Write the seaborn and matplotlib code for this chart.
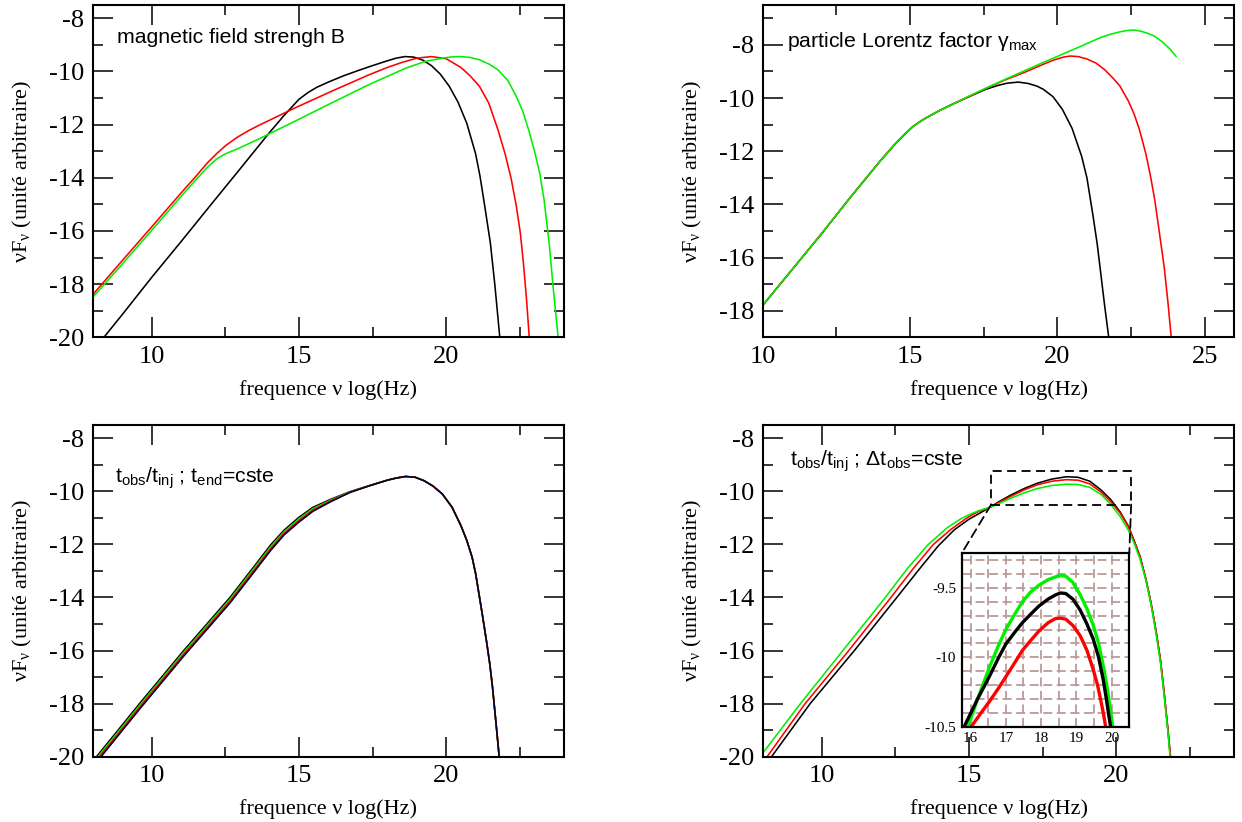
import numpy as np
import pandas as pd
import matplotlib
matplotlib.use("Agg")
import matplotlib.pyplot as plt
import seaborn as sns
from matplotlib.ticker import MultipleLocator, FormatStrFormatter
from matplotlib.patches import Rectangle, ConnectionPatch

# ---------------- data ----------------
# Panel 1 : magnetic field strength B
b_black_x = [8.38, 9.0, 10.0, 11.0, 12.0, 13.0, 14.0, 14.5, 15.0, 15.3, 15.6, 16.0, 16.5, 17.0, 17.5, 18.0, 18.3, 18.6, 18.9, 19.2, 19.5, 19.8, 20.1, 20.4, 20.7, 21.0, 21.15, 21.3, 21.5, 21.65, 21.82]
b_black_y = [-20.0, -19.15, -17.75, -16.4, -15.03, -13.67, -12.3, -11.65, -11.05, -10.8, -10.6, -10.4, -10.17, -9.97, -9.78, -9.6, -9.5, -9.44, -9.46, -9.57, -9.78, -10.1, -10.55, -11.15, -11.95, -13.1, -13.95, -15.0, -16.45, -18.0, -20.0]
b_red_x = [8.0, 9.0, 10.0, 11.0, 11.5, 11.9, 12.2, 12.5, 12.9, 13.3, 13.6, 14.85, 16.1, 17.37, 18.0, 18.5, 19.0, 19.5, 20.0, 20.5, 20.8, 21.13, 21.45, 21.76, 22.0, 22.2, 22.38, 22.52, 22.63, 22.73, 22.82]
b_red_y = [-18.4, -17.12, -15.85, -14.57, -13.95, -13.43, -13.1, -12.8, -12.48, -12.22, -12.05, -11.38, -10.75, -10.13, -9.85, -9.66, -9.5, -9.44, -9.52, -9.85, -10.15, -10.56, -11.2, -12.2, -13.1, -14.0, -15.05, -16.1, -17.3, -18.6, -20.0]
b_green_x = [8.0, 9.0, 10.0, 11.0, 11.5, 11.9, 12.2, 12.5, 12.9, 13.6, 14.85, 16.1, 17.37, 18.62, 19.3, 19.87, 20.2, 20.5, 20.8, 21.13, 21.45, 21.76, 22.1, 22.38, 22.6, 22.8, 23.0, 23.17, 23.32, 23.5, 23.63, 23.8]
b_green_y = [-18.5, -17.25, -15.98, -14.7, -14.08, -13.6, -13.3, -13.1, -12.92, -12.56, -11.88, -11.19, -10.5, -9.88, -9.62, -9.5, -9.45, -9.44, -9.47, -9.56, -9.72, -9.94, -10.35, -10.94, -11.5, -12.2, -13.0, -13.8, -14.8, -16.5, -18.1, -20.0]

# Panel 2 : particle Lorentz factor gamma_max
g_black_x = [10.0, 11.0, 12.0, 13.0, 14.0, 14.5, 14.8, 15.1, 15.4, 15.7, 16.0, 16.5, 17.0, 17.57, 18.0, 18.3, 18.67, 19.0, 19.3, 19.52, 19.85, 20.17, 20.5, 20.82, 21.0, 21.21, 21.35, 21.47, 21.6, 21.74]
g_black_y = [-17.8, -16.45, -15.1, -13.7, -12.35, -11.72, -11.38, -11.07, -10.84, -10.65, -10.47, -10.2, -9.95, -9.67, -9.52, -9.44, -9.4, -9.45, -9.55, -9.67, -9.95, -10.43, -11.15, -12.19, -13.0, -14.45, -15.5, -16.6, -17.8, -19.0]
g_red_x = [10.0, 11.0, 12.0, 13.0, 14.0, 14.5, 14.8, 15.1, 15.4, 15.7, 16.0, 16.5, 17.0, 17.57, 18.2, 18.87, 19.52, 19.9, 20.2, 20.43, 20.7, 21.0, 21.3, 21.6, 21.9, 22.12, 22.4, 22.6, 22.78, 23.0, 23.15, 23.3, 23.45, 23.62, 23.75, 23.86]
g_red_y = [-17.8, -16.45, -15.1, -13.7, -12.35, -11.72, -11.38, -11.07, -10.84, -10.65, -10.47, -10.2, -9.94, -9.64, -9.33, -9.04, -8.73, -8.56, -8.46, -8.42, -8.44, -8.53, -8.68, -8.93, -9.27, -9.55, -10.1, -10.6, -11.18, -12.1, -12.9, -13.82, -15.0, -16.34, -17.7, -19.0]
g_green_x = [10.0, 11.0, 12.0, 13.0, 14.0, 14.5, 14.8, 15.1, 15.4, 15.7, 16.0, 16.5, 17.0, 17.57, 18.2, 18.87, 19.52, 20.17, 20.82, 21.47, 21.8, 22.12, 22.35, 22.6, 22.85, 23.1, 23.3, 23.55, 23.82, 24.03]
g_green_y = [-17.8, -16.45, -15.1, -13.7, -12.35, -11.72, -11.38, -11.07, -10.84, -10.65, -10.47, -10.2, -9.93, -9.63, -9.31, -8.98, -8.66, -8.35, -8.04, -7.72, -7.6, -7.51, -7.46, -7.44, -7.49, -7.58, -7.68, -7.88, -8.16, -8.44]

# Panel 3 : t_obs/t_inj ; t_end = cste
e_x = [8.13, 9.59, 11.09, 12.66, 13.5, 14.04, 14.5, 15.0, 15.48, 16.1, 16.74, 17.37, 18.0, 18.3, 18.62, 18.95, 19.25, 19.55, 19.87, 20.2, 20.5, 20.7, 20.88, 21.0, 21.13, 21.25, 21.38, 21.48, 21.57, 21.68, 21.8]
e_black_y = [-20.0, -18.0, -16.0, -14.0, -12.8, -12.02, -11.46, -10.98, -10.6, -10.29, -10.01, -9.79, -9.58, -9.5, -9.44, -9.47, -9.6, -9.8, -10.1, -10.6, -11.29, -11.85, -12.48, -13.1, -13.98, -14.8, -15.73, -16.5, -17.35, -18.6, -20.0]
e_green_y = [-20.07, -18.07, -16.07, -14.07, -12.87, -12.09, -11.52, -11.04, -10.65, -10.32, -10.02, -9.79, -9.58, -9.5, -9.44, -9.47, -9.6, -9.8, -10.1, -10.6, -11.29, -11.85, -12.48, -13.1, -13.98, -14.8, -15.73, -16.5, -17.35, -18.6, -20.0]
e_red_y = [-20.14, -18.14, -16.14, -14.14, -12.94, -12.16, -11.58, -11.1, -10.7, -10.35, -10.03, -9.8, -9.58, -9.5, -9.44, -9.47, -9.6, -9.8, -10.1, -10.6, -11.29, -11.85, -12.48, -13.1, -13.98, -14.8, -15.73, -16.5, -17.35, -18.6, -20.0]
e_navy_y = [-20.21, -18.21, -16.21, -14.21, -13.01, -12.23, -11.64, -11.16, -10.75, -10.38, -10.04, -9.8, -9.58, -9.5, -9.44, -9.47, -9.6, -9.8, -10.1, -10.6, -11.29, -11.85, -12.48, -13.1, -13.98, -14.8, -15.73, -16.5, -17.35, -18.6, -20.0]

# Panel 4 : t_obs/t_inj ; Delta t_obs = cste
d_black_x = [8.3, 9.61, 11.11, 12.55, 13.3, 13.96, 14.5, 15.0, 15.4, 15.71, 16.0, 16.4, 16.86, 17.3, 17.8, 18.3, 18.7, 19.1, 19.48, 19.8, 20.13, 20.4, 20.6, 20.8, 21.0, 21.18, 21.35, 21.5, 21.62, 21.75, 21.83]
d_black_y = [-20.0, -18.0, -16.0, -14.0, -12.95, -12.05, -11.45, -11.05, -10.8, -10.6, -10.4, -10.15, -9.9, -9.7, -9.54, -9.45, -9.47, -9.62, -9.95, -10.3, -10.78, -11.3, -11.85, -12.45, -13.3, -14.24, -15.3, -16.4, -17.6, -19.0, -20.0]
d_red_x = [8.15, 9.44, 10.92, 12.35, 13.1, 13.79, 14.4, 14.96, 15.3, 15.71, 16.0, 16.4, 16.86, 17.3, 17.8, 18.3, 18.7, 19.1, 19.48, 19.8, 20.13, 20.4, 20.6, 20.8, 21.0, 21.18, 21.35, 21.5, 21.62, 21.75, 21.84]
d_red_y = [-20.0, -18.0, -16.0, -14.0, -12.92, -12.0, -11.42, -10.98, -10.77, -10.6, -10.43, -10.2, -9.95, -9.76, -9.62, -9.56, -9.58, -9.72, -10.03, -10.38, -10.82, -11.32, -11.87, -12.47, -13.3, -14.24, -15.3, -16.4, -17.6, -19.0, -20.0]
d_green_x = [8.0, 9.28, 10.72, 12.16, 12.9, 13.6, 14.25, 14.7, 15.0, 15.35, 15.71, 16.0, 16.4, 16.86, 17.3, 17.8, 18.3, 18.7, 19.1, 19.48, 19.8, 20.13, 20.4, 20.6, 20.8, 21.0, 21.18, 21.35, 21.5, 21.62, 21.75, 21.82]
d_green_y = [-19.87, -18.0, -16.0, -14.0, -12.92, -12.02, -11.38, -11.05, -10.88, -10.72, -10.6, -10.47, -10.27, -10.06, -9.9, -9.78, -9.73, -9.74, -9.85, -10.12, -10.48, -10.95, -11.45, -11.95, -12.55, -13.35, -14.3, -15.4, -16.5, -17.7, -19.1, -20.0]

# Inset of panel 4
i_green_x = [15.93, 16.2, 16.53, 16.8, 17.0, 17.25, 17.47, 17.7, 17.94, 18.2, 18.41, 18.55, 18.7, 18.9, 19.11, 19.3, 19.48, 19.63, 19.76, 19.86, 19.95, 20.03]
i_green_y = [-10.5, -10.3, -10.075, -9.91, -9.8, -9.69, -9.6, -9.53, -9.48, -9.44, -9.42, -9.41, -9.415, -9.46, -9.55, -9.65, -9.77, -9.9, -10.06, -10.2, -10.35, -10.5]
i_black_x = [15.82, 16.2, 16.53, 16.8, 17.0, 17.25, 17.47, 17.7, 17.94, 18.2, 18.41, 18.55, 18.7, 18.9, 19.11, 19.3, 19.48, 19.63, 19.76, 19.85, 19.92, 19.97]
i_black_y = [-10.5, -10.3, -10.14, -10.0, -9.905, -9.82, -9.75, -9.69, -9.63, -9.58, -9.55, -9.536, -9.54, -9.58, -9.66, -9.76, -9.87, -10.0, -10.16, -10.3, -10.42, -10.5]
i_red_x = [16.02, 16.3, 16.53, 16.8, 17.0, 17.25, 17.47, 17.7, 17.94, 18.2, 18.41, 18.55, 18.7, 18.9, 19.11, 19.3, 19.48, 19.6, 19.7, 19.77, 19.83]
i_red_y = [-10.5, -10.4, -10.32, -10.22, -10.14, -10.04, -9.95, -9.88, -9.81, -9.75, -9.72, -9.718, -9.725, -9.77, -9.845, -9.95, -10.09, -10.2, -10.32, -10.41, -10.5]

zoom_xlim = [15.75, 20.5]
zoom_ylim = [-10.5, -9.25]

xlabel_text = "frequence ν log(Hz)"
ylabel_text = r"νF$_{\mathregular{ν}}$ (unité arbitraire)"
titles = ["magnetic field strengh B",
          r"particle Lorentz factor $\mathregular{γ_{max}}$",
          r"t$_{\mathregular{obs}}$/t$_{\mathregular{inj}}$ ; t$_{\mathregular{end}}$=cste",
          r"t$_{\mathregular{obs}}$/t$_{\mathregular{inj}}$ ; Δt$_{\mathregular{obs}}$=cste"]

GREEN = "#00f000"
RED = "#ff0000"

# ---------------- style ----------------
sns.set_theme(style="ticks")
plt.rcParams['font.family'] = ['Liberation Serif', 'DejaVu Serif']
plt.rcParams['axes.unicode_minus'] = False
plt.rcParams['mathtext.default'] = 'regular'

fig = plt.figure(figsize=(12.42, 8.22), dpi=100)
W, H = 1242.0, 822.0

def frac(l, t, r, b):
    return [l / W, 1 - b / H, (r - l) / W, (b - t) / H]

ax_tl = fig.add_axes(frac(92.7, 5.0, 564.0, 337.3))
ax_tr = fig.add_axes(frac(762.7, 5.0, 1234.3, 337.3))
ax_bl = fig.add_axes(frac(92.7, 425.0, 564.0, 756.7))
ax_br = fig.add_axes(frac(762.7, 425.0, 1234.3, 756.7))
ax_in = fig.add_axes(frac(961.7, 553.3, 1129.3, 726.7))

LW = 1.15
def draw(ax, xs, ys, color, lw=LW):
    sns.lineplot(x=xs, y=ys, color=color, linewidth=lw, ax=ax,
                 sort=False, estimator=None, legend=False)

draw(ax_tl, b_black_x, b_black_y, "black")
draw(ax_tl, b_red_x, b_red_y, RED)
draw(ax_tl, b_green_x, b_green_y, GREEN)

draw(ax_tr, g_black_x, g_black_y, "black")
draw(ax_tr, g_red_x, g_red_y, RED)
draw(ax_tr, g_green_x, g_green_y, GREEN)

draw(ax_bl, e_x, e_black_y, "black")
draw(ax_bl, e_x, e_green_y, GREEN)
draw(ax_bl, e_x, e_red_y, RED)
draw(ax_bl, e_x, e_navy_y, "#000033")

draw(ax_br, d_black_x, d_black_y, "black")
draw(ax_br, d_red_x, d_red_y, RED)
draw(ax_br, d_green_x, d_green_y, GREEN)

draw(ax_in, i_green_x, i_green_y, GREEN, lw=2.4)
draw(ax_in, i_black_x, i_black_y, "black", lw=2.4)
draw(ax_in, i_red_x, i_red_y, RED, lw=2.4)

limits = {ax_tl: ((8, 24), (-20, -7.5)),
          ax_tr: ((10, 26), (-19, -6.5)),
          ax_bl: ((8, 24), (-20, -7.5)),
          ax_br: ((8, 24), (-20, -7.5))}

for ax, (xl, yl) in limits.items():
    ax.set_xlim(*xl)
    ax.set_ylim(*yl)
    ax.xaxis.set_major_locator(MultipleLocator(5))
    ax.xaxis.set_minor_locator(MultipleLocator(2.5))
    ax.yaxis.set_major_locator(MultipleLocator(2))
    ax.yaxis.set_minor_locator(MultipleLocator(1))
    ax.xaxis.set_major_formatter(FormatStrFormatter('%g'))
    ax.yaxis.set_major_formatter(FormatStrFormatter('%g'))
    ax.tick_params(which='both', direction='in', top=True, right=True,
                   bottom=True, left=True, color='black', width=1.1)
    ax.tick_params(which='major', length=14.5, labelsize=19, pad=6,
                   labelcolor='black')
    ax.tick_params(which='minor', length=7.5)
    for s in ax.spines.values():
        s.set_linewidth(1.5)
        s.set_color('black')
    ax.set_xlabel(xlabel_text, fontsize=16, color='black', labelpad=9)
    ax.set_ylabel(ylabel_text, fontsize=16, color='black', labelpad=11)
    ax.set_facecolor('white')

# panel annotations (sans-serif)
tpos = [(ax_tl, 0.052, 0.885), (ax_tr, 0.052, 0.8745),
        (ax_bl, 0.047, 0.825), (ax_br, 0.058, 0.876)]
for (ax, tx, ty), t in zip(tpos, titles):
    ax.text(tx, ty, t, transform=ax.transAxes, ha='left', va='baseline',
            fontsize=15.3, family=['Liberation Sans', 'DejaVu Sans'], color='black')

# inset
ax_in.set_xlim(*zoom_xlim)
ax_in.set_ylim(*zoom_ylim)
ax_in.xaxis.set_major_locator(MultipleLocator(1))
ax_in.xaxis.set_minor_locator(MultipleLocator(0.5))
ax_in.yaxis.set_major_locator(MultipleLocator(0.5))
ax_in.yaxis.set_minor_locator(MultipleLocator(0.1))
ax_in.xaxis.set_major_formatter(FormatStrFormatter('%g'))
ax_in.yaxis.set_major_formatter(FormatStrFormatter('%g'))
ax_in.tick_params(which='both', length=0, labelsize=11, pad=4, labelcolor='black')
ax_in.grid(True, which='both', color='#bc9a9a', linestyle=(0, (5, 2.5)), linewidth=1.3)
ax_in.set_axisbelow(True)
for s in ax_in.spines.values():
    s.set_linewidth(1.6)
    s.set_color('black')
ax_in.set_facecolor('white')
ax_in.set_xlabel("")
ax_in.set_ylabel("")

# zoom rectangle and connectors in panel 4
rect = Rectangle((zoom_xlim[0], zoom_ylim[0]), zoom_xlim[1] - zoom_xlim[0],
                 zoom_ylim[1] - zoom_ylim[0], fill=False, edgecolor='black',
                 linestyle=(0, (5, 3)), linewidth=1.3, zorder=5)
ax_br.add_patch(rect)
for xa, xb in [(zoom_xlim[0], 0), (zoom_xlim[1], 1)]:
    con = ConnectionPatch(xyA=(xa, zoom_ylim[0]), coordsA=ax_br.transData,
                          xyB=(xb, 1), coordsB=ax_in.transAxes,
                          color='black', linestyle=(0, (5, 3)), linewidth=1.3)
    fig.add_artist(con)

fig.savefig("out.png", dpi=100, facecolor='white')
